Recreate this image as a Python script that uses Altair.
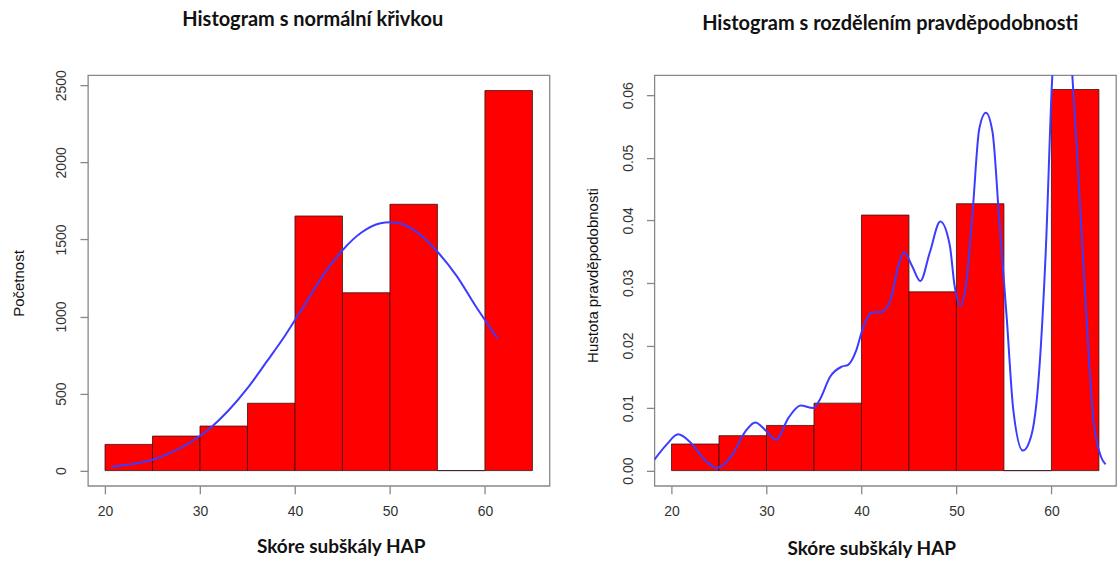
import altair as alt
import pandas as pd

# Histogram bins (class width 5)
bin_start = [20, 25, 30, 35, 40, 45, 50, 55, 60]
bin_end = [25, 30, 35, 40, 45, 50, 55, 60, 65]
counts = [170, 224, 289, 437, 1652, 1154, 1728, 0, 2466]
densities = [0.00425, 0.00558, 0.00722, 0.01078, 0.04084, 0.02857, 0.04265, 0.0, 0.06091]

# Fitted normal curve (in counts)
normal_x = [20.7, 23, 25, 27, 29, 31, 33, 35, 37, 39, 41, 43, 45, 47, 49, 50, 51,
            53, 55, 57, 59, 61.3]
normal_y = [25, 44, 70, 118, 184, 272, 390, 535, 705, 880, 1075, 1270, 1430, 1545,
            1605, 1612, 1605, 1540, 1420, 1265, 1070, 860]

# Kernel density estimate
kde_x = [18.2, 19.5, 20.7, 22.0, 23.5, 24.8, 26.3, 27.8, 28.8, 30.0, 31.0, 32.3,
         33.6, 34.9, 35.6, 36.7, 37.9, 38.6, 39.4, 40.1, 41.0, 42.2, 43.1, 43.9,
         44.5, 45.3, 46.2, 47.2, 48.3, 49.3, 49.8, 50.4, 51.0, 51.7, 52.4, 53.1,
         53.8, 54.5, 55.3, 56.0, 57.0, 57.9, 58.6, 59.4, 60.1, 60.6, 61.2, 61.8,
         62.2, 62.9, 63.7, 64.4, 65.2, 65.7]
kde_y = [0.00175, 0.0042, 0.0058, 0.0045, 0.0017, 0.0004, 0.0023, 0.0063, 0.0077,
         0.0063, 0.0049, 0.0084, 0.0104, 0.0100, 0.0113, 0.0150, 0.0166, 0.0169,
         0.0190, 0.0225, 0.0252, 0.0254, 0.0275, 0.0328, 0.0349, 0.0328, 0.0303,
         0.0349, 0.0398, 0.0360, 0.0296, 0.0264, 0.0296, 0.0413, 0.0546, 0.0572,
         0.0541, 0.0402, 0.0243, 0.0095, 0.0032, 0.0057, 0.0137, 0.0349, 0.0632,
         0.0720, 0.0750, 0.0720, 0.0632, 0.0456, 0.0243, 0.0084, 0.0023, 0.0010]

x_ticks = [20, 30, 40, 50, 60]
count_ticks = [0, 500, 1000, 1500, 2000, 2500]
density_ticks = [0.0, 0.01, 0.02, 0.03, 0.04, 0.05, 0.06]

hist_df = pd.DataFrame({"lo": bin_start, "hi": bin_end, "count": counts, "density": densities})
normal_df = pd.DataFrame({"x": normal_x, "y": normal_y})
kde_df = pd.DataFrame({"x": kde_x, "y": kde_y})

W, H = 462, 411
X_DOMAIN = [18.2, 66.8]
GRAY = "#888888"
LABEL = "#333333"
BAR_RED = "#ff0000"
CURVE = "#3c3cff"


def x_axis(title_x, title_y):
    return alt.Axis(values=x_ticks, title="Skóre subškály HAP", grid=False, domain=False,
                    tickSize=8, tickColor=GRAY, tickWidth=1.3, labelFont="Liberation Sans",
                    labelFontSize=14, labelColor=LABEL, labelBaseline="middle", labelPadding=18,
                    titleFont="Lato", titleFontSize=19, titleFontWeight="bold", titleColor="#111",
                    titleX=title_x, titleY=title_y, titleAlign="center", titleBaseline="middle")


def y_axis(title, values, fmt, title_x, title_y):
    return alt.Axis(values=values, format=fmt, title=title, grid=False, domain=False,
                    tickSize=8, tickColor=GRAY, tickWidth=1.3, labelFont="Liberation Sans",
                    labelFontSize=14, labelColor=LABEL, labelAngle=270, labelAlign="center",
                    labelBaseline="middle", labelPadding=18,
                    titleFont="Liberation Sans", titleFontSize=15, titleFontWeight="normal",
                    titleColor="#111", titleAngle=270, titleX=title_x, titleY=title_y,
                    titleAlign="center", titleBaseline="middle")


def panel_title(text, dx, offset):
    return alt.Title(text, font="Lato", fontSize=20, fontWeight="bold", color="#111",
                     anchor="middle", frame="group", dx=dx, offset=offset, baseline="alphabetic")


# Left: counts with normal curve
xs_left = alt.Scale(domain=X_DOMAIN, nice=False, zero=False)
ys_left = alt.Scale(domain=[-98.7, 2565.7], nice=False, zero=False)

left_bars = alt.Chart(hist_df).mark_rect(fill=BAR_RED, stroke="#3a1010", strokeWidth=0.8).encode(
    x=alt.X("lo:Q", scale=xs_left, axis=x_axis(253, 61)),
    x2="hi:Q",
    y=alt.Y("count:Q", scale=ys_left,
            axis=y_axis("Početnost", count_ticks, "d", -69, 208)),
    y2=alt.datum(0),
)
left_curve = alt.Chart(normal_df).mark_line(color=CURVE, strokeWidth=2, interpolate="monotone",
                                            clip=True).encode(
    x=alt.X("x:Q", scale=xs_left),
    y=alt.Y("y:Q", scale=ys_left),
)
left = alt.layer(left_bars, left_curve).properties(
    width=W, height=H, title=panel_title("Histogram s normální křivkou", -6, 24))

# Right: densities with kernel density curve
xs_right = alt.Scale(domain=X_DOMAIN, nice=False, zero=False)
ys_right = alt.Scale(domain=[-0.00243, 0.0632], nice=False, zero=False)

right_bars = alt.Chart(hist_df).mark_rect(fill=BAR_RED, stroke="#3a1010", strokeWidth=0.8).encode(
    x=alt.X("lo:Q", scale=xs_right, axis=x_axis(217, 63)),
    x2="hi:Q",
    y=alt.Y("density:Q", scale=ys_right,
            axis=y_axis("Hustota pravděpodobnosti", density_ticks, ".2f", -62, 200)),
    y2=alt.datum(0),
)
right_curve = alt.Chart(kde_df).mark_line(color=CURVE, strokeWidth=2, interpolate="monotone",
                                          clip=True).encode(
    x=alt.X("x:Q", scale=xs_right),
    y=alt.Y("y:Q", scale=ys_right),
)
right = alt.layer(right_bars, right_curve).properties(
    width=W, height=H, title=panel_title("Histogram s rozdělením pravděpodobnosti", 5, 25))

chart = alt.hconcat(left, right, spacing=105, bounds="flush").resolve_scale(
    x="independent", y="independent"
).properties(
    autosize=alt.AutoSizeParams(type="pad"),
    padding={"left": 11, "top": 8, "right": 2, "bottom": 4},
    background="white",
).configure_view(stroke=GRAY, strokeWidth=1.3)

chart.save("out.html", embed_options={"renderer": "svg", "actions": False})
